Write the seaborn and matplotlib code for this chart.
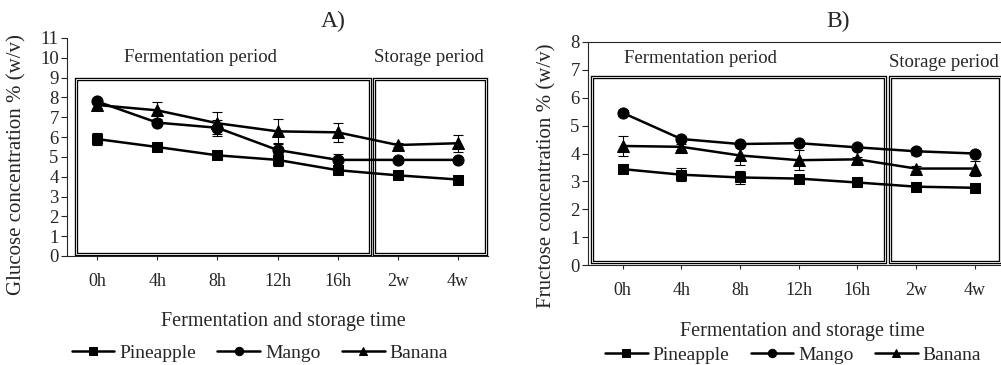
import numpy as np
import pandas as pd
import matplotlib
matplotlib.use("Agg")
import matplotlib.pyplot as plt
import seaborn as sns
from matplotlib.patches import Rectangle

# ------------------------------
# Data
# ------------------------------
times = ["0h", "4h", "8h", "12h", "16h", "2w", "4w"]
fruits = ["Pineapple", "Mango", "Banana"]

glucose_pineapple = [5.9, 5.5, 5.08, 4.85, 4.33, 4.07, 3.86]
glucose_mango = [7.8, 6.73, 6.47, 5.35, 4.85, 4.85, 4.85]
glucose_banana = [7.62, 7.35, 6.7, 6.29, 6.24, 5.6, 5.69]
glucose_pineapple_sd = [0.3, 0.1, 0.1, 0.3, 0.15, 0.1, 0.1]
glucose_mango_sd = [0.1, 0.1, 0.4, 0.3, 0.3, 0.1, 0.1]
glucose_banana_sd = [0.15, 0.43, 0.55, 0.6, 0.47, 0.1, 0.42]

fructose_pineapple = [3.44, 3.24, 3.14, 3.1, 2.96, 2.81, 2.77]
fructose_mango = [5.46, 4.52, 4.34, 4.37, 4.22, 4.08, 4.0]
fructose_banana = [4.27, 4.24, 3.93, 3.76, 3.79, 3.46, 3.46]
fructose_pineapple_sd = [0.15, 0.23, 0.25, 0.08, 0.08, 0.08, 0.08]
fructose_mango_sd = [0.1, 0.08, 0.08, 0.08, 0.08, 0.12, 0.08]
fructose_banana_sd = [0.35, 0.1, 0.35, 0.35, 0.1, 0.1, 0.28]

markers = {"Pineapple": "s", "Mango": "o", "Banana": "^"}
marker_sizes = {"s": 7.0, "o": 8.0, "^": 8.5}

sns.set_style("ticks")
plt.rcParams["font.family"] = ["Liberation Serif", "DejaVu Serif"]
plt.rcParams["axes.linewidth"] = 0.8


def long_df(series):
    rows = []
    for fruit, vals in zip(fruits, series):
        for i, v in enumerate(vals):
            rows.append({"pos": i, "time": times[i], "fruit": fruit, "value": v})
    return pd.DataFrame(rows)


def draw_panel(ax, series, sds, ymax, xlim, boxes, notes, ylabel, title, title_xy,
               ylabel_xy, xlabel_xy, legend_xy):
    df = long_df(series)
    pos = np.arange(len(times))
    for vals, sd in zip(series, sds):
        ax.errorbar(pos, vals, yerr=sd, fmt="none", ecolor="black",
                    elinewidth=0.8, capsize=3.5, capthick=0.8, zorder=2)
    sns.lineplot(data=df, x="pos", y="value", hue="fruit", style="fruit",
                 markers=markers, dashes=False,
                 palette={f: "black" for f in fruits},
                 linewidth=1.8, markeredgecolor="black", ax=ax, zorder=3)
    for ln in ax.lines:
        m = ln.get_marker()
        if m in marker_sizes:
            ln.set_markersize(marker_sizes[m])

    # framed "period" boxes (double line)
    for (x0, x1, y0, y1) in boxes:
        ax.add_patch(Rectangle((x0, y0), x1 - x0, y1 - y0, fill=False,
                               ec="black", lw=2.4, zorder=1, clip_on=False))
        ax.add_patch(Rectangle((x0, y0), x1 - x0, y1 - y0, fill=False,
                               ec="white", lw=0.6, zorder=1, clip_on=False))
    for (tx, ty, txt) in notes:
        ax.text(tx, ty, txt, ha="center", va="center", fontsize=13.5)

    ax.set_xlim(*xlim)
    ax.set_ylim(0, ymax)
    ax.set_yticks(range(0, ymax + 1))
    ax.set_xticks(pos)
    ax.set_xticklabels(times)
    ax.tick_params(axis="y", labelsize=13.5, length=4, width=0.8, pad=2)
    ax.tick_params(axis="x", labelsize=13, length=3, width=0.8, pad=9)

    ax.set_xlabel("Fermentation and storage time", fontsize=14.5)
    ax.xaxis.set_label_coords(*xlabel_xy)
    ax.set_ylabel(ylabel, fontsize=15, va="center")
    ax.yaxis.set_label_coords(*ylabel_xy)
    ax.text(title_xy[0], title_xy[1], title, transform=ax.transAxes,
            ha="center", va="center", fontsize=17)

    handles, labels = ax.get_legend_handles_labels()
    for h in handles:
        h.set_markersize(6)
        h.set_linewidth(1.8)
        h.set_markeredgecolor("black")
    ax.legend(handles, labels, loc="center", bbox_to_anchor=legend_xy,
              ncol=3, frameon=False, fontsize=14, handlelength=2.2,
              handletextpad=0.25, columnspacing=1.1)


fig = plt.figure(figsize=(10.01, 3.65), dpi=100)
W, H = 1001, 365

axA = fig.add_axes([67 / W, (H - 256) / H, (488 - 67) / W, (256 - 38) / H])
axB = fig.add_axes([588 / W, (H - 265) / H, (1004 - 588) / W, (265 - 42) / H])

draw_panel(
    axA,
    [glucose_pineapple, glucose_mango, glucose_banana],
    [glucose_pineapple_sd, glucose_mango_sd, glucose_banana_sd],
    11, (-0.5, 6.5),
    [(-0.35, 4.53, 0.12, 8.95), (4.6, 6.46, 0.12, 8.95)],
    [(1.72, 10.0, "Fermentation period"), (5.52, 10.0, "Storage period")],
    "Glucose concentration % (w/v)", "A)", (0.632, 1.078),
    (-0.118, 0.42), (0.515, -0.257), (0.458, -0.445),
)
axA.spines["top"].set_visible(False)
axA.spines["right"].set_visible(False)

draw_panel(
    axB,
    [fructose_pineapple, fructose_mango, fructose_banana],
    [fructose_pineapple_sd, fructose_mango_sd, fructose_banana_sd],
    8, (-0.59, 6.5),
    [(-0.52, 4.47, 0.1, 6.73), (4.56, 6.43, 0.1, 6.73)],
    [(1.32, 7.42, "Fermentation period"), (5.47, 7.28, "Storage period")],
    "Fructose concentration % (w/v)", "B)", (0.602, 1.094),
    (-0.1, 0.40), (0.515, -0.256), (0.493, -0.404),
)
axB.spines["right"].set_visible(False)

fig.savefig("out.png", dpi=100)
